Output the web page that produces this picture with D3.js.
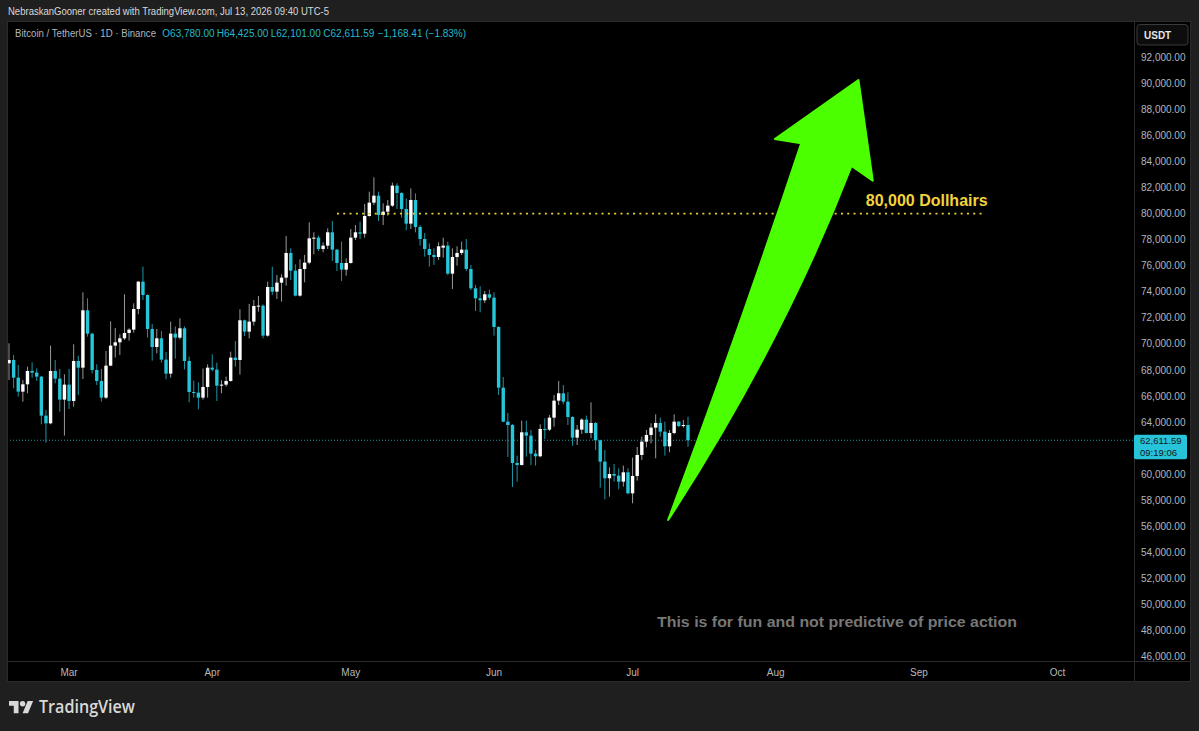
<!DOCTYPE html>
<html>
<head>
<meta charset="utf-8">
<script src="https://cdn.jsdelivr.net/npm/d3@7"></script>
<style>
  body { margin: 0; background: #1f1f1f; }
  svg { display: block; font-family: "Liberation Sans", Arial, sans-serif; }
</style>
</head>
<body>
<div id="chart"></div>
<script>
// Daily candles, BTC/USDT, starting Feb 16 2026
var startDay = Date.UTC(2026, 1, 16);

var openVals = [68516,68772,67416,66341,66904,67927,67800,67493,64500,63911,67927,67339,65728,66879,65625,68695,68183,72583,70792,68004,
  67160,65881,68337,69872,70127,70434,70844,71099,72685,74783,73760,71151,69769,70434,68797,67723,70792,70485,71202,68695,
  66316,66265,65881,66700,68183,68030,66802,66879,67160,68951,68772,71816,70946,71713,72890,72941,70639,74373,74015,74706,
  75090,76983,75627,73708,75755,76241,78108,78159,77290,77545,78569,77239,76215,75704,76215,78159,78569,78466,79822,80845,
  81382,79899,80154,80615,82150,81587,80359,79234,81050,78978,78057,77290,76829,76676,77392,77545,75397,76676,76983,77239,
  75755,74271,73504,73350,73811,73555,71304,66648,64039,63783,60867,60714,63221,62965,61583,61379,63476,63425,64346,65651,
  66213,65574,64397,62811,63425,64193,63169,63937,62607,60970,59691,60023,59895,59435,60151,58539,59870,61481,62504,63016,
  63579,63937,63272,62146,63169,64039,63700,63780];
var highVals = [70051,69155,68388,67237,68260,68593,68132,67550,64935,69872,68772,68081,67672,68081,69974,69104,73964,73504,70850,68439,
  68081,69462,71739,71227,70741,73811,71202,73120,74834,75934,73811,71534,71151,70997,69386,71713,71355,71969,71355,69027,
  67186,67058,68107,68439,69206,68567,67211,67493,69411,70230,72660,71870,73069,73376,73683,73043,74783,75934,75294,75345,
  78287,77341,76113,76497,76829,79336,78569,78313,77801,78875,79438,77300,77852,76573,78824,79131,79387,80743,81689,82789,
  81689,80794,81050,82380,82329,81640,81178,81945,81561,79131,78517,77724,77341,77801,78159,77852,77341,77494,77852,78057,
  76062,74527,74425,74066,74169,73964,71360,67467,64704,63850,61430,64116,64116,63400,61865,63834,64295,64551,66086,67160,
  66853,66290,64450,63783,64295,64500,65523,64000,62650,61865,60535,60791,60458,60663,60458,61277,62095,62888,63400,63911,
  64602,64346,64039,63400,64602,64090,64167,64425];
var lowVals = [67237,66597,65958,65574,66214,67416,67160,63835,62428,63835,66981,64807,62965,65011,65190,66086,67314,70562,67748,66853,
  65574,65779,68300,68951,69155,70306,70255,70870,72276,73376,70485,68720,69283,68567,67288,67416,68874,70358,68055,65523,
  65881,64986,65728,65881,67902,65625,66214,66725,67109,68260,67646,70613,70434,71406,72480,70434,70562,73759,73453,73248,
  74476,74911,73650,73632,74732,76113,76880,77136,77034,77290,76369,75601,74834,75243,76164,77980,78057,78159,79770,80666,
  79438,79131,79847,80512,80359,79694,78722,78824,78569,77545,76701,75934,76062,76446,76624,75294,74220,76011,76829,75601,
  74143,72531,72429,73146,73401,70639,66086,63988,61328,59025,59434,60663,61353,60714,60663,61302,62709,63323,63655,65318,
  65369,63783,62197,62248,63093,63144,62760,61865,58974,58079,58284,59435,58846,59051,58463,57772,59511,61097,62070,62376,
  61225,62888,61430,61686,63067,63630,63579,62101];
var closeVals = [68772,67416,66341,66904,67927,67800,67493,64500,63911,67927,67339,65728,66879,65625,68695,68183,72583,70792,68004,67160,
  65881,68337,69872,70127,70434,70844,71099,72685,74783,73760,71151,69769,70434,68797,67723,70792,70485,71202,68695,66316,
  66265,65881,66700,68183,68030,66802,66879,67160,68951,68772,71816,70946,71713,72915,72941,70639,74373,74015,74706,75090,
  76983,75627,73708,75755,76241,78108,78159,77290,77545,78569,77239,76215,75704,76215,78159,78569,78466,79822,80845,81382,
  79899,80154,80615,82150,81587,80359,79234,81050,78978,78057,77290,76829,76676,77494,77545,75397,76676,76983,77239,75755,
  74271,73504,73350,73811,73555,71304,66648,64039,63783,60867,60714,63221,62965,61583,61379,63476,63425,64346,65651,66213,
  65574,64397,62811,63425,64193,63169,63937,62607,60970,59691,60023,59895,59435,60151,58539,59870,61481,62504,63016,63579,
  63937,63272,62146,63169,64039,63700,63780,62611.59];

// price axis ticks
var priceTicks = d3.range(46000, 92001, 2000);
var lastPrice = 62611.59;
var countdown = "09:19:06";

// annotations: day offset from start, price
var targetPrice = 80000;
var targetLine = [71, 211];
var arrowDays   = [183.9, 165.8, 171.5, 158.0, 142.7, 167.6, 182.4, 187.0];
var arrowPrices = [90258, 85731, 85401, 70997, 56493, 70076, 83659, 82531];

var headerText = "NebraskanGooner created with TradingView.com, Jul 13, 2026 09:40 UTC-5";
var symbolText = "Bitcoin / TetherUS \u00b7 1D \u00b7 Binance";
var ohlcText = ["O63,780.00", "H64,425.00", "L62,101.00", "C62,611.59", "\u22121,168.41 (\u22121.83%)"];

var svgWidth = 1199;
var svgHeight = 731;
var pane = { left: 7, top: 21, right: 1191, bottom: 682 };
var axisX = 1134;   // price scale border
var axisY = 661.5;  // time scale border

var upColor = "#ffffff", downColor = "#26c6da";
var upWick = "#9a9a9a", downWick = "#1c95a5";

var candles = openVals.map(function (o, i) {
    return {
        date: new Date(startDay + i * 864e5),
        open: o, high: highVals[i], low: lowVals[i], close: closeVals[i]
    };
});

var svg = d3.select("#chart").append("svg")
    .attr("width", svgWidth)
    .attr("height", svgHeight);

svg.append("rect").attr("width", svgWidth).attr("height", svgHeight).attr("fill", "#1f1f1f");

// scales
var xScale = d3.scaleUtc()
    .domain([candles[0].date, candles[candles.length - 1].date])
    .range([9, 688]);
var yScale = d3.scaleLinear().domain([46000, 92000]).range([656.7, 57.3]);
function dayX(d) { return xScale(new Date(startDay + d * 864e5)); }

// chart pane
svg.append("rect")
    .attr("x", pane.left + 0.5).attr("y", pane.top + 0.5)
    .attr("width", pane.right - pane.left - 1).attr("height", pane.bottom - pane.top - 1)
    .attr("fill", "#000").attr("stroke", "#2b2b2b");
svg.append("line").attr("x1", axisX + 0.5).attr("x2", axisX + 0.5)
    .attr("y1", pane.top).attr("y2", pane.bottom).attr("stroke", "#2b2b2b");
svg.append("line").attr("x1", pane.left).attr("x2", pane.right)
    .attr("y1", axisY).attr("y2", axisY).attr("stroke", "#2b2b2b");

svg.append("clipPath").attr("id", "plotclip").append("rect")
    .attr("x", pane.left + 1).attr("y", pane.top + 1)
    .attr("width", axisX - pane.left - 1).attr("height", axisY - pane.top - 1.5);

var plot = svg.append("g").attr("clip-path", "url(#plotclip)");

// last price dotted line
plot.append("line")
    .attr("x1", pane.left).attr("x2", axisX)
    .attr("y1", yScale(lastPrice)).attr("y2", yScale(lastPrice))
    .attr("stroke", downColor).attr("stroke-opacity", 0.75)
    .attr("stroke-dasharray", "1,2");

// candles
var bodyW = 3.4;
var cg = plot.selectAll("g.candle").data(candles).enter().append("g").attr("class", "candle");
cg.append("line")
    .attr("x1", function (d) { return xScale(d.date); })
    .attr("x2", function (d) { return xScale(d.date); })
    .attr("y1", function (d) { return yScale(d.high); })
    .attr("y2", function (d) { return yScale(d.low); })
    .attr("stroke", function (d) { return d.close >= d.open ? upWick : downWick; })
    .attr("stroke-width", 1);
cg.append("rect")
    .attr("x", function (d) { return xScale(d.date) - bodyW / 2; })
    .attr("width", bodyW)
    .attr("y", function (d) { return yScale(Math.max(d.open, d.close)); })
    .attr("height", function (d) { return Math.max(1, Math.abs(yScale(d.open) - yScale(d.close))); })
    .attr("fill", function (d) { return d.close >= d.open ? upColor : downColor; });

// 80k target line
plot.append("line")
    .attr("x1", dayX(targetLine[0])).attr("x2", dayX(targetLine[1]))
    .attr("y1", yScale(targetPrice)).attr("y2", yScale(targetPrice))
    .attr("stroke", "#e9cf2f").attr("stroke-width", 1.6)
    .attr("stroke-dasharray", "2,4.3");
plot.append("text")
    .attr("x", dayX(targetLine[1]) + 4).attr("y", yScale(targetPrice) - 8)
    .attr("text-anchor", "end")
    .attr("font-size", 16).attr("font-weight", "bold")
    .attr("fill", "#f2d33c")
    .text("80,000 Dollhairs");

// green arrow
var ap = arrowDays.map(function (d, i) { return [dayX(d), yScale(arrowPrices[i])]; });
var arrowPath = "M" + ap[0] + "L" + ap[1] + "L" + ap[2] +
    "Q" + ap[3] + " " + ap[4] + "Q" + ap[5] + " " + ap[6] + "L" + ap[7] + "Z";
plot.append("path")
    .attr("d", arrowPath)
    .attr("fill", "#4cff00")
    .attr("stroke", "#4cff00").attr("stroke-width", 2).attr("stroke-linejoin", "round");

// disclaimer
plot.append("text")
    .attr("x", 657).attr("y", 627)
    .attr("font-size", 15).attr("font-weight", "bold")
    .attr("fill", "#777777")
    .attr("textLength", 360).attr("lengthAdjust", "spacingAndGlyphs")
    .text("This is for fun and not predictive of price action");

// price axis (labels under the last price tag are hidden, as in the platform)
var lpY = yScale(lastPrice);
var visibleTicks = priceTicks.filter(function (d) {
    var ty = yScale(d);
    return ty < lpY - 12 || ty > lpY + 24;
});
svg.append("g").selectAll("text").data(visibleTicks).enter().append("text")
    .attr("x", 1141).attr("y", function (d) { return yScale(d); })
    .attr("dy", "0.35em")
    .attr("font-size", 10).attr("fill", "#b2b5be")
    .text(d3.format(",.2f"));

// currency box
svg.append("rect").attr("x", 1137).attr("y", 24.5).attr("width", 51).attr("height", 20.5)
    .attr("rx", 3).attr("fill", "#0d0d0d").attr("stroke", "#3a3a3a");
svg.append("text").attr("x", 1144).attr("y", 38.5).attr("font-size", 10).attr("font-weight", "bold")
    .attr("fill", "#e6e6e6").text("USDT");

// last price tag
svg.append("rect").attr("x", axisX).attr("y", lpY - 5.5).attr("width", 53).attr("height", 24.5)
    .attr("rx", 2).attr("fill", "#27c3d8");
svg.append("text").attr("x", 1140).attr("y", lpY + 3.6)
    .attr("font-size", 9.5).attr("fill", "#131722").text(d3.format(",.2f")(lastPrice));
svg.append("text").attr("x", 1140).attr("y", lpY + 15.6)
    .attr("font-size", 9.5).attr("fill", "#131722").text(countdown);

// time axis
var months = d3.utcMonth.range(new Date(Date.UTC(2026, 2, 1)), new Date(Date.UTC(2026, 9, 2)));
svg.append("g").selectAll("text").data(months).enter().append("text")
    .attr("x", function (d) { return xScale(d); }).attr("y", 672)
    .attr("dy", "0.35em").attr("text-anchor", "middle")
    .attr("font-size", 10).attr("fill", "#b8b8b8")
    .text(d3.utcFormat("%b"));

// header and legend
svg.append("text").attr("x", 8).attr("y", 15)
    .attr("font-size", 11).attr("fill", "#d9d9d9")
    .attr("textLength", 321).attr("lengthAdjust", "spacingAndGlyphs")
    .text(headerText);
svg.append("text").attr("x", 15).attr("y", 37)
    .attr("font-size", 10).attr("fill", "#b2b5be")
    .attr("textLength", 141).attr("lengthAdjust", "spacingAndGlyphs")
    .text(symbolText);
var ohlcX = [162.3, 216.7, 270.7, 323.3, 377.7];
svg.append("g").selectAll("text").data(ohlcText).enter().append("text")
    .attr("x", function (d, i) { return ohlcX[i]; }).attr("y", 37)
    .attr("font-size", 10).attr("fill", "#26b9cc")
    .text(function (d) { return d; });

// TradingView logo
var logo = svg.append("g").attr("transform", "translate(9,701) scale(0.68)").attr("fill", "#d9d9d9");
logo.append("path").attr("d", "M14 18H7V7H0V0h14v18zM28 18h-8l7.5-18h8L28 18z");
logo.append("circle").attr("cx", 20).attr("cy", 4).attr("r", 4);
svg.append("text").attr("x", 39).attr("y", 713)
    .attr("font-size", 17.5).attr("font-weight", 600).attr("fill", "#d9d9d9")
    .attr("font-family", "'Open Sans', sans-serif")
    .attr("textLength", 96).attr("lengthAdjust", "spacingAndGlyphs")
    .text("TradingView");
</script>
</body>
</html>
